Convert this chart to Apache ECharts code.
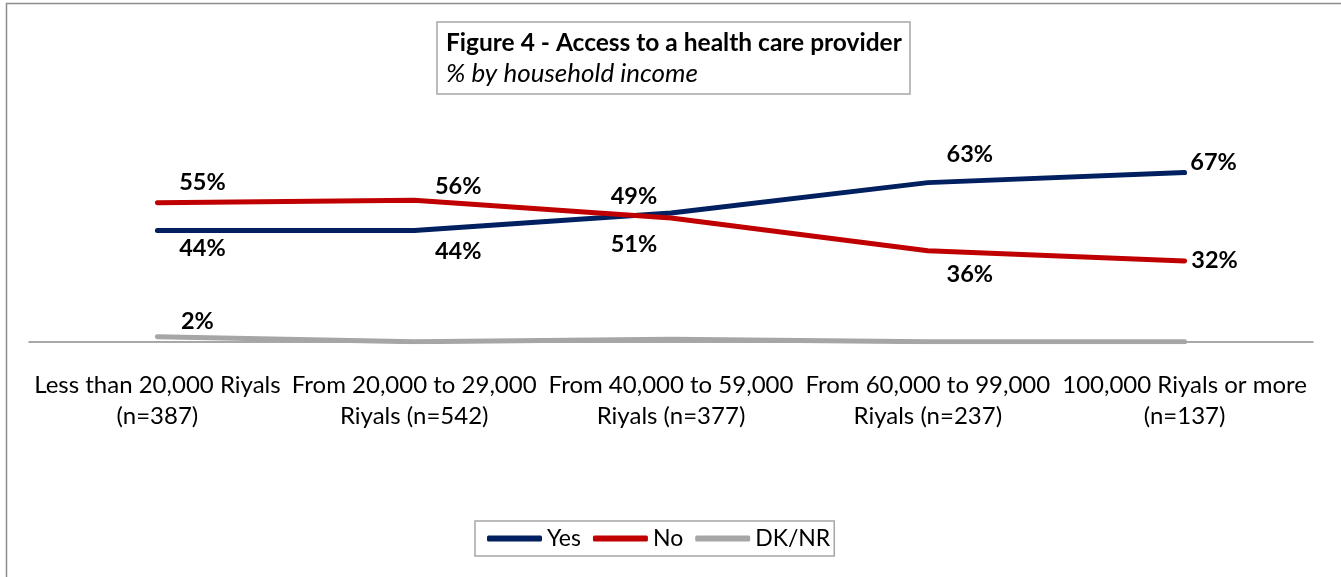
<!DOCTYPE html>
<html lang="en">
<head>
  <meta charset="UTF-8">
  <title>Figure 4 - Access to a health care provider</title>
  <script src="https://cdn.jsdelivr.net/npm/echarts@6/dist/echarts.min.js"></script>
</head>
<body style="margin:0;background:#fff;">
  <div id="echarts" style="width:1341px;height:577px;"></div>
  <script>
    const categories = [
      'Less than 20,000 Riyals\n(n=387)',
      'From 20,000 to 29,000\nRiyals (n=542)',
      'From 40,000 to 59,000\nRiyals (n=377)',
      'From 60,000 to 99,000\nRiyals (n=237)',
      '100,000 Riyals or more\n(n=137)'
    ];
    const yesValues = [44, 44, 51, 63, 67];
    const noValues = [55, 56, 49, 36, 32];
    const dkValues = [2, 0, 1, 0, 0];

    // where each data label sits, in px from its point (as moved by hand in the original)
    const yesLabelOffsets = [[45, 18], [44, 21], [-37, 31], [42, -28], [29, -10]];
    const noLabelOffsets = [[45, -20], [44, -14], [-37, -22], [42, 24], [30, 0]];
    const dkLabelOffsets = [[40, -15], null, null, null, null];

    const FONT = 'Lato';

    function withLabels(values, offsets) {
      return values.map((v, i) => ({
        value: v,
        label: offsets[i] ? { show: true, offset: offsets[i] } : { show: false }
      }));
    }

    function lineSeries(name, color, values, offsets) {
      return {
        name: name,
        type: 'line',
        data: withLabels(values, offsets),
        symbol: 'circle',
        symbolSize: 1,
        showSymbol: true,
        itemStyle: { color: color },
        lineStyle: { color: color, width: 5, cap: 'round', join: 'round' },
        label: {
          position: 'inside',
          formatter: '{c}%',
          color: '#000',
          fontFamily: FONT,
          fontWeight: 'bold',
          fontSize: 23.5
        },
        emphasis: { disabled: true }
      };
    }

    window.onload = function () {
      let echart = echarts.init(document.getElementById('echarts'));
      let options = {
        animation: false,
        backgroundColor: '#fff',
        graphic: [
          {
            type: 'rect',
            shape: { x: 6.5, y: 3.5, width: 1400, height: 700 },
            style: { fill: 'none', stroke: '#8c8c8c', lineWidth: 1.5 },
            silent: true
          }
        ],
        title: {
          text: 'Figure 4 - Access to a health care provider',
          subtext: '% by household income',
          left: 437,
          top: 22,
          padding: [6, 8, 5, 9],
          itemGap: 1,
          borderColor: '#a6a6a6',
          borderWidth: 1.5,
          textStyle: { fontFamily: FONT, fontWeight: 'bold', fontSize: 24.5, lineHeight: 30, color: '#000' },
          subtextStyle: { fontFamily: FONT, fontStyle: 'italic', fontSize: 26, lineHeight: 30, color: '#000' }
        },
        legend: {
          data: ['Yes', 'No', 'DK/NR'],
          left: 475,
          top: 521,
          padding: [6, 4, 6, 12],
          itemGap: 12,
          itemWidth: 55,
          itemHeight: 6,
          icon: 'roundRect',
          borderColor: '#a6a6a6',
          borderWidth: 1.5,
          textStyle: { fontFamily: FONT, fontSize: 23, color: '#000' }
        },
        grid: { left: 29, right: 28, top: 89.2, bottom: 235.3 },
        xAxis: {
          type: 'category',
          data: categories,
          boundaryGap: true,
          axisLine: { lineStyle: { color: '#8c8c8c', width: 1.5 } },
          axisTick: { show: false },
          axisLabel: {
            interval: 0,
            margin: 28,
            fontFamily: FONT,
            fontSize: 24,
            lineHeight: 31,
            color: '#000'
          }
        },
        yAxis: {
          type: 'value',
          min: 0,
          max: 100,
          show: false
        },
        series: [
          lineSeries('Yes', '#002060', yesValues, yesLabelOffsets),
          lineSeries('No', '#c00000', noValues, noLabelOffsets),
          lineSeries('DK/NR', '#a6a6a6', dkValues, dkLabelOffsets)
        ]
      };
      echart.setOption(options);
    };
  </script>
</body>
</html>
